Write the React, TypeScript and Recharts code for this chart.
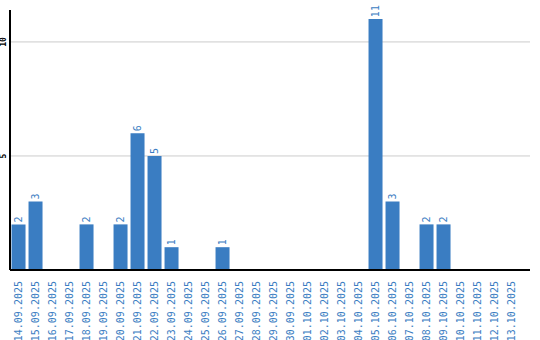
import React from "react";
import { BarChart, Bar, XAxis, YAxis, CartesianGrid, LabelList } from "recharts";

const dates = [
  "14.09.2025", "15.09.2025", "16.09.2025", "17.09.2025", "18.09.2025", "19.09.2025",
  "20.09.2025", "21.09.2025", "22.09.2025", "23.09.2025", "24.09.2025", "25.09.2025",
  "26.09.2025", "27.09.2025", "28.09.2025", "29.09.2025", "30.09.2025", "01.10.2025",
  "02.10.2025", "03.10.2025", "04.10.2025", "05.10.2025", "06.10.2025", "07.10.2025",
  "08.10.2025", "09.10.2025", "10.10.2025", "11.10.2025", "12.10.2025", "13.10.2025",
];
const counts = [2, 3, 0, 0, 2, 0, 2, 6, 5, 1, 0, 0, 1, 0, 0, 0, 0, 0, 0, 0, 0, 11, 3, 0, 2, 2, 0, 0, 0, 0];
const yTicks = [5, 10];

const BLUE = "#3a7dc2";
const FONT = "DejaVu Sans Mono, monospace";

const data = dates.map((d, i) => ({ date: d, value: counts[i] }));

const XTick = (props: any) => {
  const { x, y, payload } = props;
  return (
    <text
      x={x}
      y={y}
      transform={`rotate(-90, ${x}, ${y})`}
      textAnchor="end"
      dominantBaseline="central"
      fill={BLUE}
      fontSize={10}
      fontFamily={FONT}
    >
      {payload.value}
    </text>
  );
};

const YTick = (props: any) => {
  const { x, y, payload } = props;
  return (
    <text
      x={x}
      y={y}
      transform={`rotate(-90, ${x}, ${y})`}
      textAnchor="middle"
      dominantBaseline="central"
      fill="#000"
      fontSize={8}
      fontWeight="bold"
      fontFamily={FONT}
    >
      {payload.value}
    </text>
  );
};

const ValueLabel = (props: any) => {
  const { x, y, width, value } = props;
  if (!value) return null;
  const cx = x + width / 2;
  const ty = y - 2;
  return (
    <text
      x={cx}
      y={ty}
      transform={`rotate(-90, ${cx}, ${ty})`}
      textAnchor="start"
      dominantBaseline="central"
      fill={BLUE}
      fontSize={10}
      fontFamily={FONT}
    >
      {value}
    </text>
  );
};

export default function App() {
  return (
    <div style={{ width: 540, height: 340 }}>
      <style>{"body{margin:0}"}</style>
      <BarChart
        width={540}
        height={340}
        data={data}
        margin={{ top: 10, right: 10, left: 0, bottom: 0 }}
        barCategoryGap="9%"
      >
        <CartesianGrid vertical={false} stroke="#cccccc" horizontalValues={yTicks} />
        <XAxis
          dataKey="date"
          interval={0}
          height={70}
          padding={{ left: 0, right: 10 }}
          tick={<XTick />}
          tickLine={false}
          axisLine={{ stroke: "#000", strokeWidth: 2 }}
          tickMargin={5}
        />
        <YAxis
          width={10}
          domain={[0, 11.4]}
          ticks={yTicks}
          tick={<YTick />}
          tickLine={false}
          axisLine={{ stroke: "#000", strokeWidth: 2 }}
          tickMargin={0}
        />
        <Bar dataKey="value" fill={BLUE} isAnimationActive={false}>
          <LabelList dataKey="value" content={<ValueLabel />} />
        </Bar>
      </BarChart>
    </div>
  );
}
